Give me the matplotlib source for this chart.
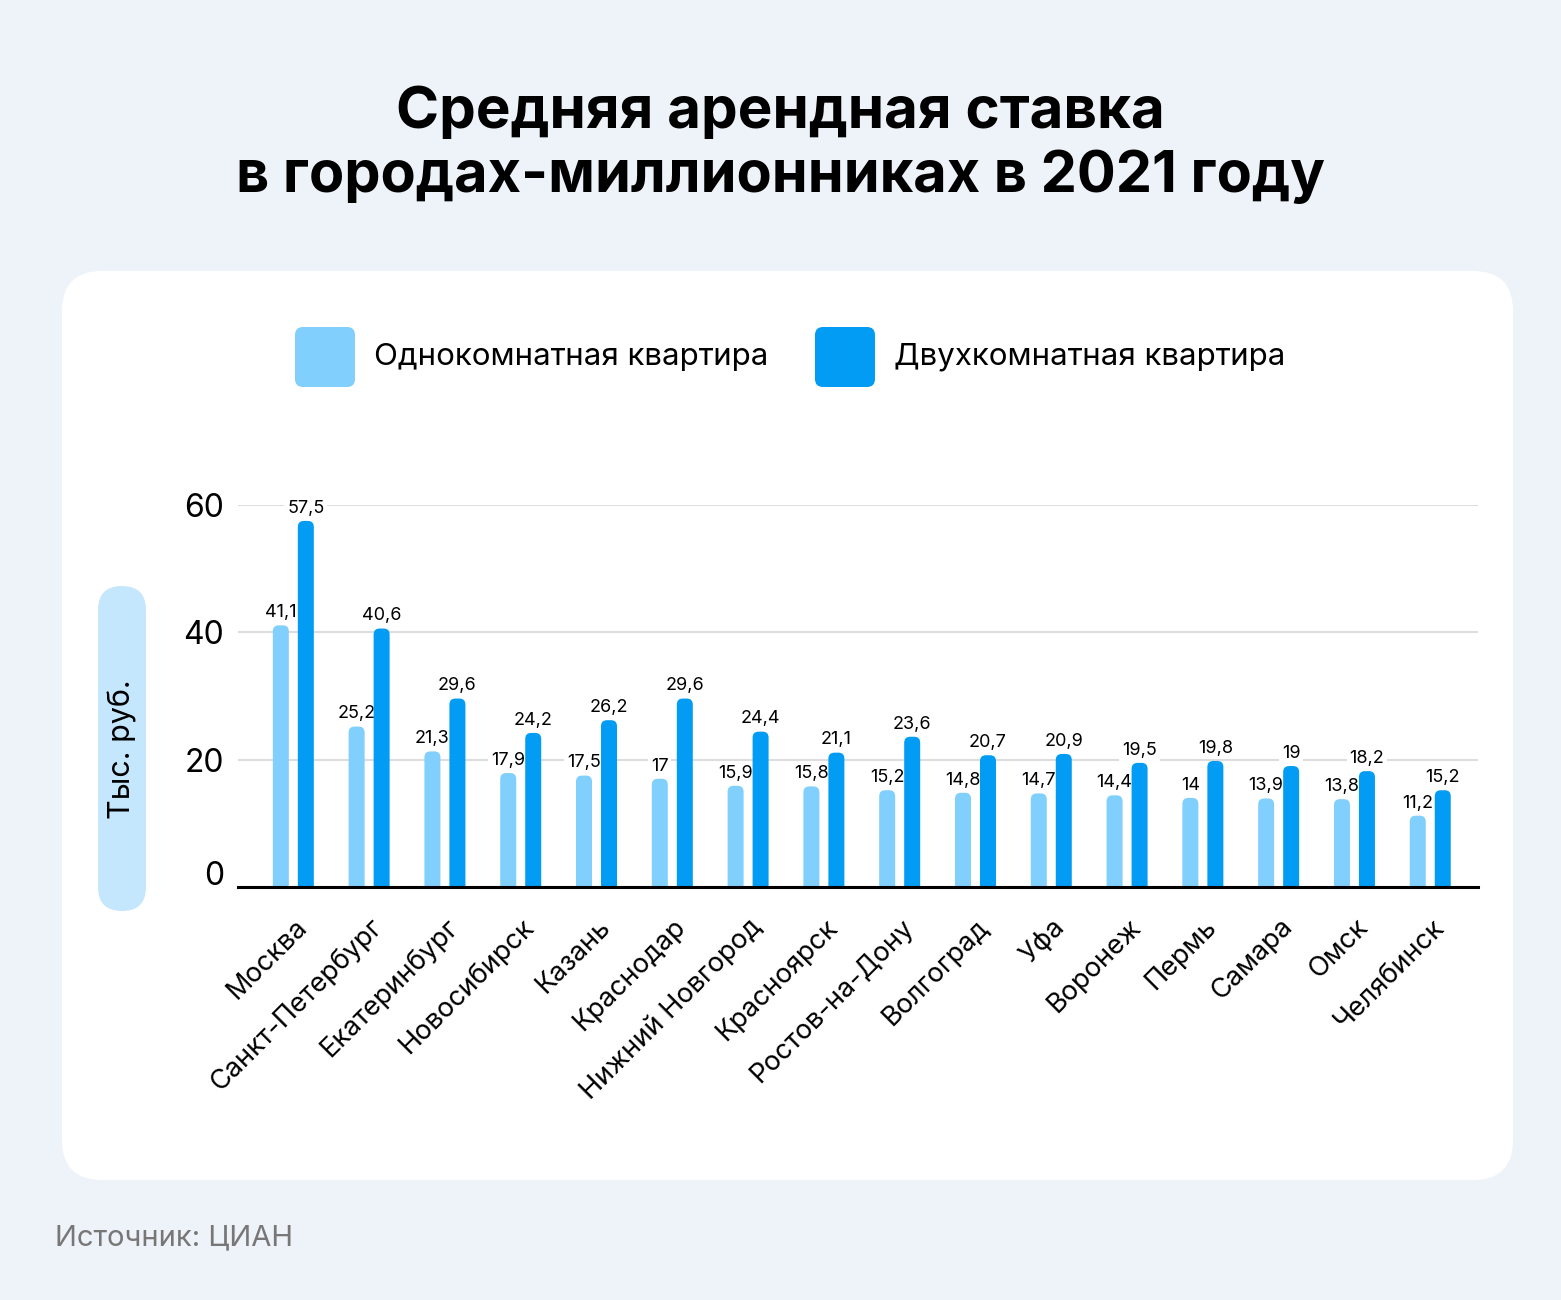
import numpy as np
import matplotlib
matplotlib.use('Agg')
import matplotlib.pyplot as plt
from matplotlib.patches import FancyBboxPatch
from matplotlib.transforms import ScaledTranslation

plt.rcParams['font.family'] = ['Inter', 'DejaVu Sans']

# data
cities = ['Москва', 'Санкт-Петербург', 'Екатеринбург', 'Новосибирск', 'Казань',
          'Краснодар', 'Нижний Новгород', 'Красноярск', 'Ростов-на-Дону', 'Волгоград',
          'Уфа', 'Воронеж', 'Пермь', 'Самара', 'Омск', 'Челябинск']
one_room = [41.1, 25.2, 21.3, 17.9, 17.5, 17, 15.9, 15.8, 15.2, 14.8, 14.7, 14.4, 14, 13.9, 13.8, 11.2]
two_room = [57.5, 40.6, 29.6, 24.2, 26.2, 29.6, 24.4, 21.1, 23.6, 20.7, 20.9, 19.5, 19.8, 19, 18.2, 15.2]
series_names = ['Однокомнатная квартира', 'Двухкомнатная квартира']
y_ticks = [0, 20, 40, 60]

LIGHT = '#80CFFD'
DARK = '#039CF4'
BG = '#EEF2F9'

W, H = 1561, 1300
fig = plt.figure(figsize=(W / 100, H / 100), dpi=100)
fig.patch.set_facecolor(BG)

# background layer in pixel coords
bg = fig.add_axes([0, 0, 1, 1])
bg.set_xlim(0, W)
bg.set_ylim(H, 0)
bg.axis('off')

bg.add_patch(FancyBboxPatch((62, 271), 1451, 909, boxstyle='round,pad=0,rounding_size=40',
                            fc='white', ec='none'))

bg.text(780, 113, 'Средняя арендная ставка', ha='center', va='center',
        fontsize=42, fontweight='bold', color='black')
bg.text(781, 177, 'в городах-миллионниках в 2021 году', ha='center', va='center',
        fontsize=41.5, fontweight='bold', color='black')

# legend
for lx, col, name in [(295, LIGHT, series_names[0]), (815, DARK, series_names[1])]:
    bg.add_patch(FancyBboxPatch((lx, 327), 60, 60, boxstyle='round,pad=0,rounding_size=8',
                                fc=col, ec='none'))
    bg.text(lx + 79, 357, name, ha='left', va='center', fontsize=22.5)

# y label pill
bg.add_patch(FancyBboxPatch((98, 586), 48, 325, boxstyle='round,pad=0,rounding_size=24',
                            fc='#C5E7FD', ec='none'))
bg.text(122, 749, 'Тыс. руб.', rotation=90, ha='center', va='center', fontsize=22)

bg.text(55, 1238, 'Источник: ЦИАН', ha='left', va='center', fontsize=21, color='#777777')

# main chart
ax_l, ax_r, ax_b, ax_t = 238, 1478, 887, 505
ax = fig.add_axes([ax_l / W, (H - ax_b) / H, (ax_r - ax_l) / W, (ax_b - ax_t) / H])
ax.set_facecolor('none')
xmin, xmax = -0.73, 15.63
ax.set_xlim(xmin, xmax)
ax.set_ylim(0, 60)

px_x = (ax_r - ax_l) / (xmax - xmin)
px_y = (ax_b - ax_t) / 60.0

x = np.arange(len(cities))
bw = 16 / px_x
off = 12.5 / px_x
r_px = 6

for vals, col, sign in [(one_room, LIGHT, -1), (two_room, DARK, 1)]:
    bars = ax.bar(x + sign * off, vals, width=bw, color=col)
    for rect, v in zip(bars, vals):
        rect.set_visible(False)
        ry = r_px / px_y
        p = FancyBboxPatch((rect.get_x(), -ry), rect.get_width(), rect.get_height() + ry,
                           boxstyle=f'round,pad=0,rounding_size={r_px / px_x}',
                           mutation_aspect=px_x / px_y, fc=col, ec='none', zorder=5)
        ax.add_patch(p)
        lbl = f'{v:g}'.replace('.', ',')
        ax.annotate(lbl, (rect.get_x() + rect.get_width() / 2, v), xytext=(0, 3),
                    textcoords='offset points', ha='center', va='bottom', fontsize=13,
                    bbox=dict(boxstyle='square,pad=0.15', fc='white', ec='none'),
                    zorder=4, annotation_clip=False)

ax.set_yticks(y_ticks)
ax.set_yticklabels([str(t) for t in y_ticks], fontsize=23)
ax.yaxis.grid(True, color='#DDDDDD', lw=1.5)
ax.set_axisbelow(True)
ax.tick_params(axis='y', length=0, pad=10)
# the zero label sits a little above the baseline
zero_lab = ax.get_yticklabels()[0]
zero_lab.set_transform(zero_lab.get_transform() + ScaledTranslation(0, 14 / 100, fig.dpi_scale_trans))
for s in ['top', 'right', 'left']:
    ax.spines[s].set_visible(False)
ax.spines['bottom'].set_color('black')
ax.spines['bottom'].set_linewidth(2.2)
ax.spines['bottom'].set_zorder(6)

ax.set_xticks(x)
ax.set_xticklabels(cities, rotation=45, ha='right', va='center', rotation_mode='anchor', fontsize=19.5)
ax.tick_params(axis='x', length=0, pad=26)
for t in ax.get_xticklabels():
    t.set_transform(t.get_transform() + ScaledTranslation(10 / 100, 0, fig.dpi_scale_trans))

fig.savefig('out.png', dpi=100, facecolor=BG)
